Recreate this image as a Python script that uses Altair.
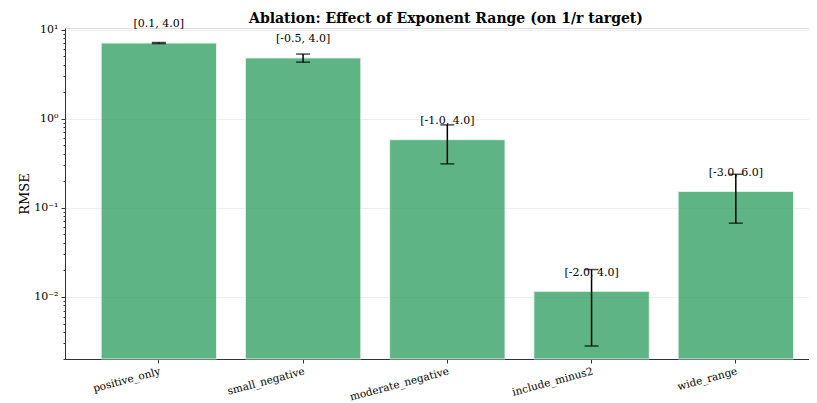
import altair as alt
import pandas as pd

configs = ["positive_only", "small_negative", "moderate_negative", "include_minus2", "wide_range"]
ranges = ["[0.1, 4.0]", "[-0.5, 4.0]", "[-1.0, 4.0]", "[-2.0, 4.0]", "[-3.0, 6.0]"]
rmse_mean = [7.05, 4.8, 0.58, 0.0115, 0.152]
rmse_std = [0.1, 0.5, 0.27, 0.0087, 0.085]

df = pd.DataFrame({"config": configs, "range": ranges, "mean": rmse_mean, "std": rmse_std})
df["lo"] = df["mean"] - df["std"]
df["hi"] = df["mean"] + df["std"]
df["lab"] = df["mean"] * 1.42

FONT = "DejaVu Serif"
YMIN, YMAX = 0.002, 10.4
major_test = "abs(log(datum.value)/LN10 - round(log(datum.value)/LN10)) < 1e-6"
tick_vals = []
for e in [0.001, 0.01, 0.1, 1.0]:
    for m in range(1, 10):
        v = round(m * e, 6)
        if YMIN <= v <= YMAX:
            tick_vals.append(v)
tick_vals.append(10.0)

yscale = alt.Scale(type="log", domain=[YMIN, YMAX], nice=False)
xscale = alt.Scale(paddingInner=0.2, paddingOuter=0.179, align=0.7)

xenc = alt.X("config:N", sort=configs, scale=xscale, title=None,
             axis=alt.Axis(labelAngle=-15, labelAlign="right", labelBaseline="top",
                           labelFont=FONT, labelFontSize=10.5, labelColor="#000",
                           tickSize=4, tickColor="#333", domainColor="#333",
                           labelPadding=3, labelOffset=0))

bars = alt.Chart(df).mark_bar(color="#37a266", opacity=0.8, stroke="#e0f2e6",
                              strokeWidth=1).encode(
    x=xenc,
    y=alt.Y("mean:Q", scale=yscale, title="RMSE",
            axis=alt.Axis(values=tick_vals,
                          labelExpr="abs(datum.value-10)<1e-9 ? '10¹' : abs(datum.value-1)<1e-9 ? '10⁰' : abs(datum.value-0.1)<1e-9 ? '10⁻¹' : abs(datum.value-0.01)<1e-9 ? '10⁻²' : ''",
                          tickSize={"condition": {"test": major_test, "value": 4}, "value": 2},
                          gridOpacity={"condition": {"test": major_test, "value": 1}, "value": 0},
                          grid=True, gridColor="#ebebeb", gridWidth=0.8,
                          labelFont=FONT, labelFontSize=11, labelColor="#000",
                          tickColor="#333", domainColor="#333",
                          titleFont=FONT, titleFontSize=13, titleFontWeight="normal",
                          titleColor="#000", titlePadding=2, labelPadding=3)),
    y2=alt.datum(YMIN),
)

rules = alt.Chart(df).mark_rule(color="black", strokeWidth=1.5).encode(
    x=alt.X("config:N", sort=configs, scale=xscale),
    y=alt.Y("lo:Q", scale=yscale),
    y2="hi:Q",
)
caps_hi = alt.Chart(df).mark_tick(color="black", orient="horizontal", size=14, thickness=1.5).encode(
    x=alt.X("config:N", sort=configs, scale=xscale),
    y=alt.Y("hi:Q", scale=yscale),
)
caps_lo = alt.Chart(df).mark_tick(color="black", orient="horizontal", size=14, thickness=1.5).encode(
    x=alt.X("config:N", sort=configs, scale=xscale),
    y=alt.Y("lo:Q", scale=yscale),
)
labels = alt.Chart(df).mark_text(font=FONT, fontSize=11, baseline="bottom", color="#000").encode(
    x=alt.X("config:N", sort=configs, scale=xscale),
    y=alt.Y("lab:Q", scale=yscale),
    text="range:N",
)

chart = alt.layer(bars, rules, caps_hi, caps_lo, labels).properties(
    width=744, height=331,
    title=alt.TitleParams("Ablation: Effect of Exponent Range (on 1/r target)",
                          font=FONT, fontSize=14, fontWeight="bold", color="#000",
                          anchor="middle", offset=0, dy=8, dx=9),
    autosize=alt.AutoSizeParams(type="none"),
    padding={"left": 57, "top": 20, "right": 0, "bottom": 50},
).configure_view(stroke=None).configure(background="white")

chart.save("out.html", embed_options={"renderer": "svg", "actions": False})
